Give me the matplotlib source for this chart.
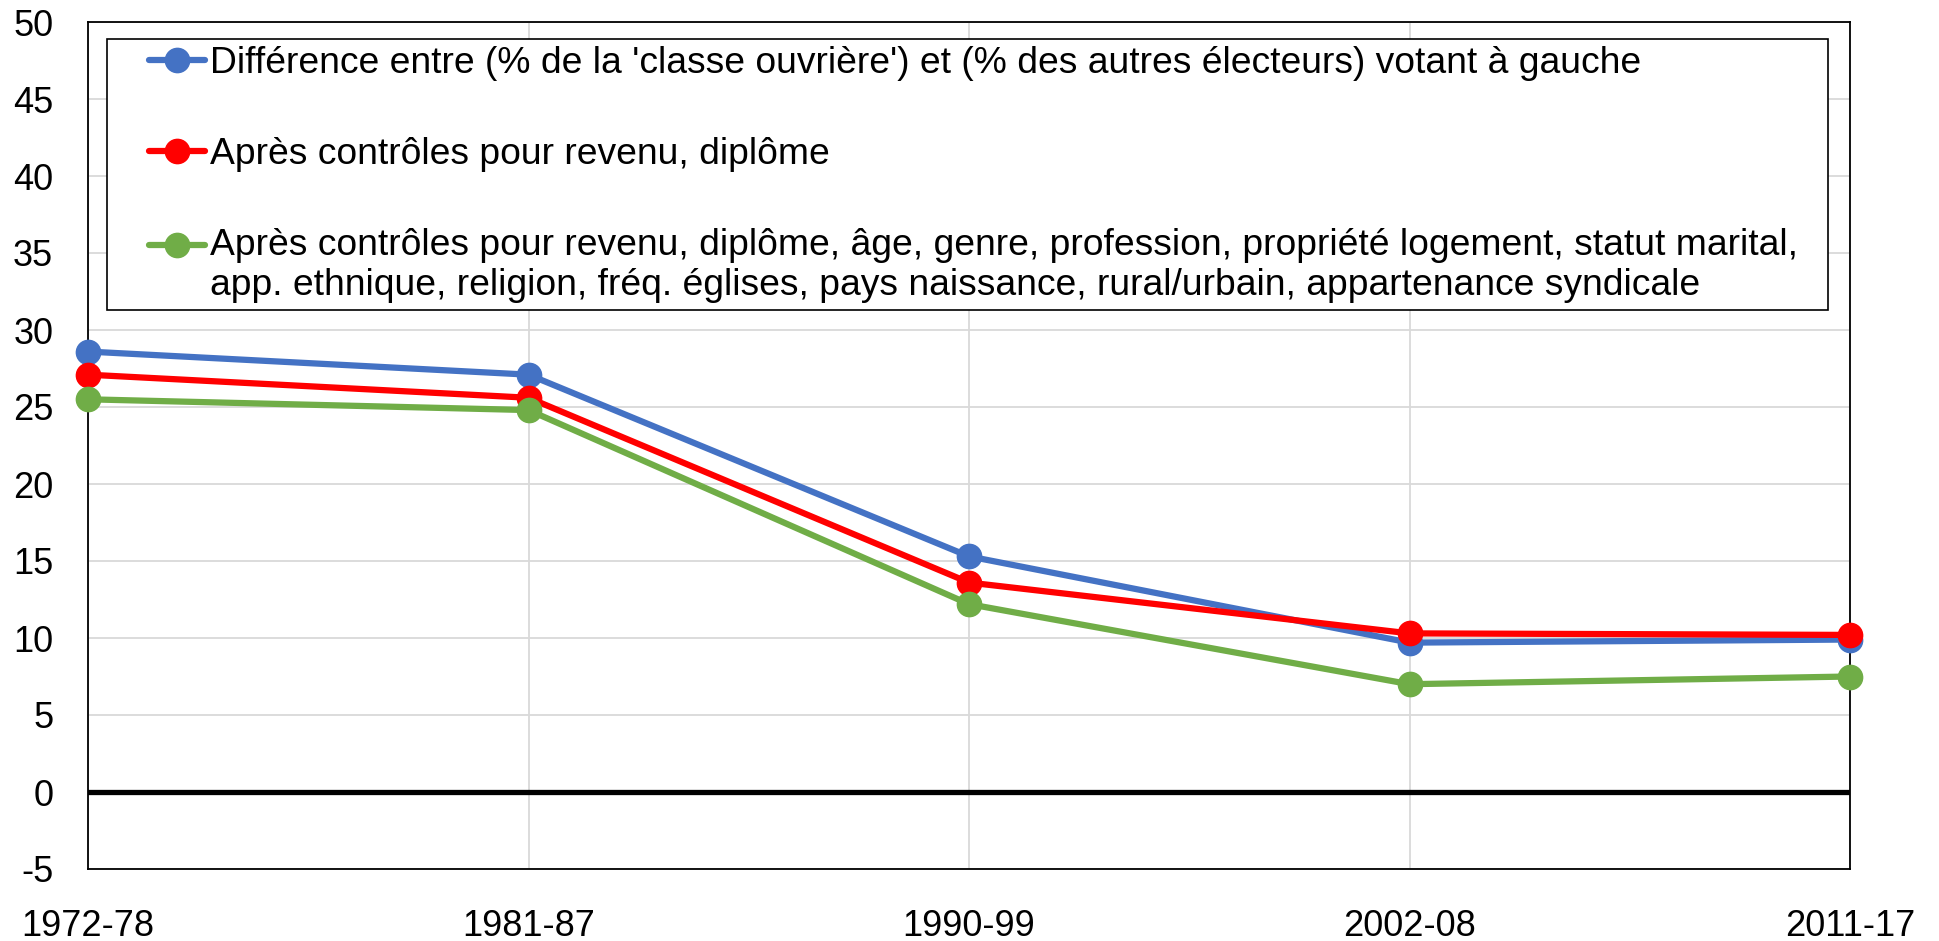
import numpy as np
import matplotlib
matplotlib.use("Agg")
import matplotlib.pyplot as plt
from matplotlib.legend_handler import HandlerLine2D

# ---- data ----
periods = ["1972-78", "1981-87", "1990-99", "2002-08", "2011-17"]
raw_gap = [28.6, 27.1, 15.3, 9.7, 9.9]
ctrl_income_edu = [27.1, 25.6, 13.6, 10.3, 10.2]
ctrl_all = [25.5, 24.8, 12.2, 7.0, 7.5]

labels = [
    "Différence entre (% de la 'classe ouvrière') et (% des autres électeurs) votant à gauche",
    "Après contrôles pour revenu, diplôme",
    "Après contrôles pour revenu, diplôme, âge, genre, profession, propriété logement, statut marital,\n"
    "app. ethnique, religion, fréq. églises, pays naissance, rural/urbain, appartenance syndicale",
]
colors = ["#4472C4", "#FF0000", "#70AD47"]
yticks = list(range(-5, 51, 5))

plt.rcParams['font.family'] = ['Liberation Sans', 'DejaVu Sans']
FS_TICK = 26
FS_LEG = 26.8

fig = plt.figure(figsize=(19.39, 9.41), dpi=100)
ax = fig.add_axes([88 / 1939, 1 - 869 / 941, (1850 - 88) / 1939, (869 - 22) / 941])

x = np.arange(len(periods))
series = [raw_gap, ctrl_income_edu, ctrl_all]
handles = []
for vals, col, lab in zip(series, colors, labels):
    h, = ax.plot(x, vals, color=col, lw=4.5, marker='o', markersize=17.5,
                 solid_capstyle='round', label=lab, clip_on=False, zorder=3)
    handles.append(h)

ax.axhline(0, color='black', lw=3.8, zorder=2)

ax.set_xlim(0, len(periods) - 1)
ax.set_ylim(-5, 50)
ax.set_yticks(yticks)
ax.set_yticklabels([str(t) for t in yticks])
ax.set_xticks(x)
ax.set_xticklabels(periods)
ax.tick_params(axis='y', length=0, pad=25, labelsize=FS_TICK)
ax.tick_params(axis='x', length=0, pad=28.5, labelsize=FS_TICK)
ax.grid(True, color='#D9D9D9', lw=1.3, zorder=0)
ax.set_axisbelow(True)
for s in ax.spines.values():
    s.set_color('black')
    s.set_linewidth(1.3)


class OffsetHandler(HandlerLine2D):
    def __init__(self, dx=0.0, dy=0.0, **kw):
        super().__init__(**kw)
        self.dx = dx
        self.dy = dy

    def create_artists(self, legend, orig_handle, xdescent, ydescent,
                       width, height, fontsize, trans):
        arts = super().create_artists(legend, orig_handle, xdescent, ydescent,
                                      width, height, fontsize, trans)
        for a in arts:
            a.set_xdata(np.asarray(a.get_xdata(), float) + self.dx * fontsize)
            a.set_ydata(np.asarray(a.get_ydata(), float) + self.dy * fontsize)
        return arts


DX = 0.925
hmap = {handles[0]: OffsetHandler(dx=DX), handles[1]: OffsetHandler(dx=DX),
        handles[2]: OffsetHandler(dx=DX, dy=0.565)}

x0 = (107 - 88) / (1850 - 88)
x1 = (1828 - 88) / (1850 - 88)
ytop = (869 - 39) / (869 - 22)
leg = ax.legend(handles=handles, handler_map=hmap,
                loc='upper left', bbox_to_anchor=(x0, ytop - 0.5, x1 - x0, 0.5),
                mode='expand', borderaxespad=0, borderpad=0.2,
                handlelength=1.505, handletextpad=1.06, labelspacing=1.50,
                fontsize=FS_LEG, frameon=True, fancybox=False, framealpha=1,
                edgecolor='black')
leg.get_frame().set_linewidth(1.2)
leg.get_texts()[2].set_linespacing(1.18)
leg.set_zorder(5)

fig.savefig("out.png", dpi=100)
